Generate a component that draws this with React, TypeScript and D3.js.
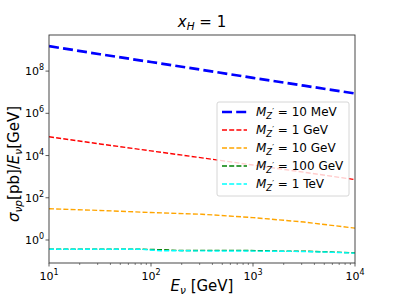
import * as React from 'react'
import * as d3 from 'd3'

// energies (log10 E / GeV) at which values were read
const logE = [1, 1.5, 2, 2.5, 3, 3.5, 4]
const logEFine = [1, 1.5, 1.9, 2.1, 2.3, 2.6, 2.9, 3.1, 3.3, 3.5, 3.7, 4]

// log10 of sigma/E for each mass
const blue10MeV = [9.18, 8.80, 8.43, 8.06, 7.68, 7.31, 6.94]
const red1GeV = [4.89, 4.55, 4.22, 3.89, 3.55, 3.21, 2.86]
const orange10GeV = [1.48, 1.40, 1.30, 1.22, 1.06, 0.85, 0.56]
const green100GeV = [-0.44, -0.44, -0.44, -0.46, -0.50, -0.49, -0.49, -0.51, -0.53, -0.53, -0.56, -0.61]
const cyan1TeV = [-0.44, -0.44, -0.44, -0.51, -0.51, -0.52, -0.52, -0.53, -0.53, -0.55, -0.57, -0.62]

const series = [
    { label: '10 MeV', x: logE, y: blue10MeV, color: '#0000ff', width: 2.7, dash: '10 4.2' },
    { label: '1 GeV', x: logE, y: red1GeV, color: '#ff0000', width: 1.4, dash: '5 2.2' },
    { label: '10 GeV', x: logE, y: orange10GeV, color: '#ffa500', width: 1.4, dash: '5 2.2' },
    { label: '100 GeV', x: logEFine, y: green100GeV, color: '#008000', width: 1.4, dash: '5 2.2' },
    { label: '1 TeV', x: logEFine, y: cyan1TeV, color: '#00ffff', width: 1.4, dash: '5 2.2' },
]

const yTicks = [0, 2, 4, 6, 8]
const xTicks = [1, 2, 3, 4]

export default function App() {
    const W = 395, H = 296
    const L = 49, R = 355, T = 35, B = 263
    const FONT = 'DejaVu Sans, sans-serif'

    const x = d3.scaleLinear().domain([1, 4]).range([L, R])
    const y = d3.scaleLinear().domain([-1.09, 9.71]).range([B, T])

    const minor: number[] = []
    for (let d = 1; d < 4; d++) for (let k = 2; k < 10; k++) minor.push(d + Math.log10(k))

    const line = d3.line<[number, number]>().x(d => x(d[0])).y(d => y(d[1]))

    const legX = 217, legY = 102, legW = 132, legH = 94
    const rowY = (i: number) => 112 + i * 18

    return <svg width={W} height={H} style={{ position: 'absolute', left: 0, top: 0 }} fontFamily={FONT}>
        <rect x={0} y={0} width={W} height={H} fill="#fff" />
        <defs>
            <clipPath id="plot"><rect x={L} y={T} width={R - L} height={B - T} /></clipPath>
        </defs>

        <g clipPath="url(#plot)">
            {series.map((s, i) =>
                <path key={i}
                    d={line(s.x.map((v, j) => [v, s.y[j]] as [number, number])) as string}
                    fill="none" stroke={s.color} strokeWidth={s.width} strokeDasharray={s.dash} />
            )}
        </g>

        <rect x={L} y={T} width={R - L} height={B - T} fill="none" stroke="#333" strokeWidth={0.9} />

        {/* x ticks */}
        {minor.map((m, i) =>
            <line key={i} x1={x(m)} x2={x(m)} y1={B} y2={B + 2} stroke="#333" strokeWidth={0.6} />
        )}
        {xTicks.map(t =>
            <g key={t}>
                <line x1={x(t)} x2={x(t)} y1={B} y2={B + 3.5} stroke="#333" strokeWidth={0.8} />
                <text x={x(t)} y={280} textAnchor="middle" fontSize={11}>10<tspan fontSize={8} dy={-5}>{t}</tspan></text>
            </g>
        )}

        {/* y ticks */}
        {yTicks.map(t =>
            <g key={t}>
                <line x1={L - 3.5} x2={L} y1={y(t)} y2={y(t)} stroke="#333" strokeWidth={0.8} />
                <text x={L - 5} y={y(t) + 4} textAnchor="end" fontSize={11}>10<tspan fontSize={8} dy={-5}>{t}</tspan></text>
            </g>
        )}

        {/* title */}
        <text x={(L + R) / 2} y={27} textAnchor="middle" fontSize={15}>
            <tspan fontStyle="italic">x</tspan><tspan fontStyle="italic" fontSize={10.5} dy={3}>H</tspan><tspan dy={-3}> = 1</tspan>
        </text>

        {/* x label */}
        <text x={(L + R) / 2} y={291} textAnchor="middle" fontSize={15}>
            <tspan fontStyle="italic">E</tspan><tspan fontStyle="italic" fontSize={10.5} dy={3}>ν</tspan><tspan dy={-3}> [GeV]</tspan>
        </text>

        {/* y label */}
        <text transform={`translate(19 164) rotate(-90)`} textAnchor="middle" fontSize={15}>
            <tspan fontStyle="italic">σ</tspan><tspan fontStyle="italic" fontSize={10.5} dy={3}>νp</tspan><tspan dy={-3}>[pb]/</tspan><tspan fontStyle="italic">E</tspan><tspan fontStyle="italic" fontSize={10.5} dy={3}>ν</tspan><tspan dy={-3}>[GeV]</tspan>
        </text>

        {/* legend */}
        <rect x={legX} y={legY} width={legW} height={legH} rx={2} fill="#fff" fillOpacity={0.8} stroke="#ccc" strokeWidth={0.8} />
        {series.map((s, i) =>
            <g key={i}>
                <line x1={222} x2={247} y1={rowY(i)} y2={rowY(i)} stroke={s.color} strokeWidth={s.width} strokeDasharray={s.dash} />
                <text x={256} y={rowY(i) + 4} fontSize={12}>
                    <tspan fontStyle="italic">M</tspan><tspan fontStyle="italic" fontSize={8.5} dy={3}>Z</tspan><tspan fontSize={8} dy={-4}>′</tspan><tspan dy={1}> = {s.label}</tspan>
                </text>
            </g>
        )}
    </svg>
}
